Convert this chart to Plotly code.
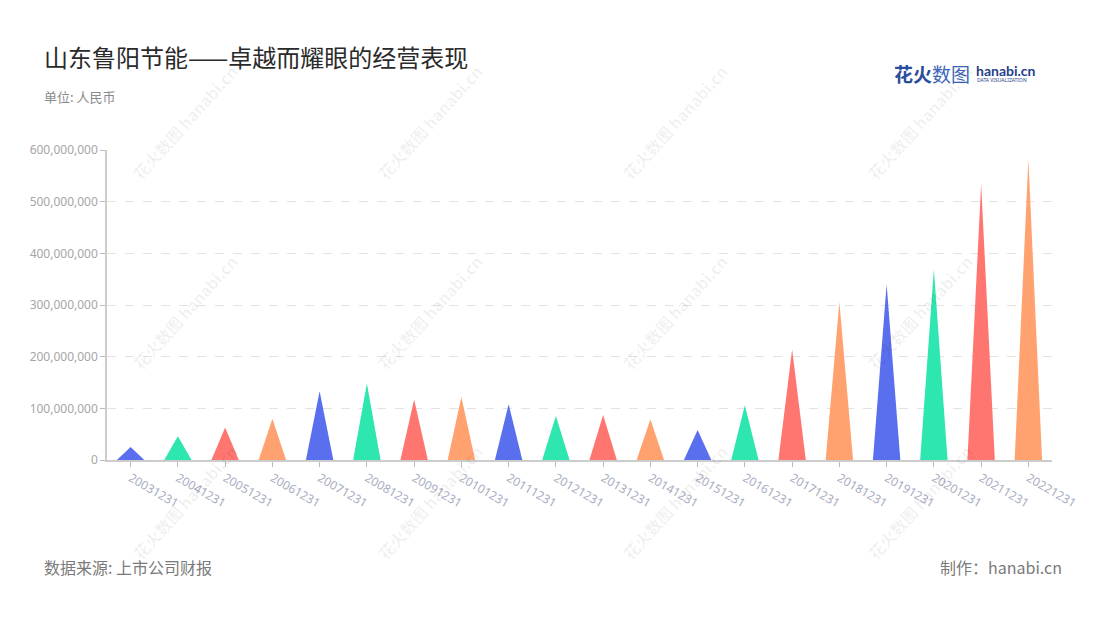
import plotly.graph_objects as go

# ---------------- data ----------------
periods = ["20031231", "20041231", "20051231", "20061231", "20071231",
           "20081231", "20091231", "20101231", "20111231", "20121231",
           "20131231", "20141231", "20151231", "20161231", "20171231",
           "20181231", "20191231", "20201231", "20211231", "20221231"]
values = [25e6, 46e6, 63e6, 80e6, 133e6,
          148e6, 117e6, 122e6, 108e6, 85e6,
          87e6, 79e6, 58e6, 106e6, 214e6,
          306e6, 340e6, 369e6, 534e6, 582e6]
palette = ["#5A6FED", "#2EE6AF", "#FF7670", "#FFA26F"]
y_ticks = [0, 100e6, 200e6, 300e6, 400e6, 500e6, 600e6]

title = "山东鲁阳节能——卓越而耀眼的经营表现"
subtitle = "单位: 人民币"
source = "数据来源: 上市公司财报"
credit = "制作：hanabi.cn"

# ---------------- layout geometry ----------------
W, H = 1100, 620
OFF = 8  # page body margin offset
L, T = 107 - OFF, 150 - OFF
R = W - (1052 - OFF)
B = H - (460 - OFF)
PW, PH = W - L - R, H - T - B
HALF = 0.29  # half width of each triangle, in category units

def px(x):
    return (x - OFF - L) / PW

def py(y):
    return (H - B - (y - OFF)) / PH

fig = go.Figure()
for i, (p, v) in enumerate(zip(periods, values)):
    fig.add_trace(go.Scatter(
        x=[i - HALF, i, i + HALF, i - HALF],
        y=[0, v, 0, 0],
        mode="lines", fill="toself",
        fillcolor=palette[i % len(palette)],
        line=dict(width=0, color=palette[i % len(palette)]),
        hoverinfo="text", text=f"{p}: {v:,.0f}",
        showlegend=False,
    ))

CJK = "Noto Sans CJK SC, Noto Sans, sans-serif"

ann = []
ann.append(dict(text=title, x=px(42), y=py(56), xanchor="left", yanchor="middle",
                font=dict(family=CJK, size=24, color="#2a2a2a")))
ann.append(dict(text=subtitle, x=px(42), y=py(96), xanchor="left", yanchor="middle",
                font=dict(family=CJK, size=13, color="#8a8a8a")))
ann.append(dict(text=source, x=px(42), y=py(567), xanchor="left", yanchor="middle",
                font=dict(family=CJK, size=16, color="#7a7a7a")))
ann.append(dict(text=credit, x=px(1064), y=py(567), xanchor="right", yanchor="middle",
                font=dict(family=CJK, size=16, color="#7a7a7a")))
# logo
ann.append(dict(text="<b>花火</b>", x=px(892), y=py(73), xanchor="left", yanchor="middle",
                font=dict(family=CJK, size=19, color="#2a4d9c")))
ann.append(dict(text="数图", x=px(930), y=py(73), xanchor="left", yanchor="middle",
                font=dict(family=CJK, size=19, color="#3b64b8")))
ann.append(dict(text="<b>hanabi.cn</b>", x=px(974), y=py(70), xanchor="left", yanchor="middle",
                font=dict(family="Lato, Noto Sans, sans-serif", size=14, color="#1f3f8a")))
ann.append(dict(text="DATA VISUALIZATION", x=px(975), y=py(80), xanchor="left", yanchor="middle",
                font=dict(family="Noto Sans, sans-serif", size=5, color="#1f3f8a")))
# watermarks
for cx in [185, 430, 675, 920]:
    for cy in [122, 312, 502]:
        ann.append(dict(text="<b>花火数图</b> <b>hanabi.cn</b>", x=px(cx), y=py(cy),
                        xanchor="center", yanchor="middle", textangle=-48,
                        font=dict(family=CJK, size=16, color="rgba(0,0,0,0.06)")))
for a in ann:
    a.update(xref="paper", yref="paper", showarrow=False)

fig.update_layout(
    width=W, height=H,
    margin=dict(l=L, r=R, t=T, b=B),
    paper_bgcolor="white", plot_bgcolor="white",
    annotations=ann,
    xaxis=dict(
        range=[-0.5, len(periods) - 0.5],
        tickmode="array", tickvals=list(range(len(periods))), ticktext=periods,
        tickangle=30, ticks="outside", ticklen=5, tickcolor="#bbbbbb",
        showline=True, linecolor="#cccccc", linewidth=1.5,
        showgrid=False, zeroline=False,
        tickfont=dict(family="Noto Sans, sans-serif", size=12, color="#a8adbf"),
        fixedrange=True,
    ),
    yaxis=dict(
        range=[0, 600e6],
        tickmode="array", tickvals=y_ticks, tickformat=",d",
        ticks="outside", ticklen=5, tickcolor="#bbbbbb",
        showline=True, linecolor="#cccccc", linewidth=1.5,
        showgrid=True, gridcolor="#e3e3e3", griddash="dash", gridwidth=1,
        zeroline=False,
        tickfont=dict(family="Noto Sans, sans-serif", size=12, color="#a6a6a6"),
        fixedrange=True,
    ),
)

fig.write_html("out.html")
